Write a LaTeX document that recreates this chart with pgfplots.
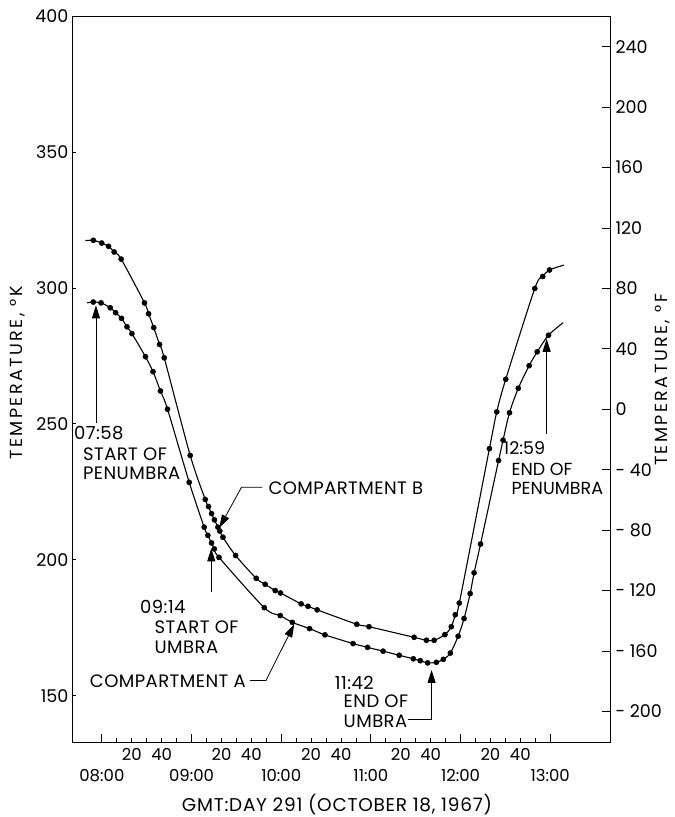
\documentclass[border=0pt]{standalone}
\usepackage{pgfplots}
\pgfplotsset{compat=1.18}
\usepackage{pgfplotstable}
\usepackage{fontspec}
\setmainfont{Poppins}
\newfontfamily\widefont{Poppins}[LetterSpace=14]
\newfontfamily\midfont{Poppins}[LetterSpace=2.5]
\newfontfamily\xlfont{Poppins}[LetterSpace=4]
\usetikzlibrary{arrows.meta}

% Compartment B (upper curve): line incl. end points, and measured dots
\pgfplotstableread{
h K
7.816 317.4
7.905 317.5
7.998 316.5
8.074 315.3
8.137 313.2
8.215 310.6
8.475 294.5
8.521 290.5
8.578 285.4
8.643 279.2
8.695 274.3
8.985 238.4
9.153 222.2
9.189 219.6
9.223 217.0
9.255 214.7
9.294 212.0
9.315 210.6
9.350 208.3
9.491 201.6
9.721 193.2
9.821 191.0
9.933 188.7
9.992 187.8
10.222 183.8
10.299 182.9
10.401 181.6
10.843 176.3
10.979 175.4
11.482 171.5
11.620 170.4
11.705 170.4
11.826 172.5
11.897 175.4
11.941 179.8
11.986 184.1
12.322 240.9
12.404 254.4
12.504 266.4
12.828 299.8
12.916 304.2
12.992 306.6
13.154 308.4
}\Bline

% Compartment A (lower curve)
\pgfplotstableread{
h K
7.836 294.5
7.904 294.8
7.991 294.5
8.093 292.7
8.153 290.9
8.219 288.8
8.280 285.7
8.335 283.2
8.486 274.7
8.570 269.2
8.653 262.1
8.732 255.4
8.974 228.5
9.141 212.0
9.182 209.0
9.223 206.2
9.254 204.0
9.306 200.9
9.811 182.4
9.989 179.5
10.124 177.0
10.316 174.7
10.488 172.4
10.801 169.2
10.963 167.8
11.136 166.4
11.316 164.9
11.473 163.6
11.551 162.9
11.633 162.1
11.731 162.3
11.808 163.4
11.886 165.7
11.973 171.9
12.039 178.4
12.107 187.6
12.151 195.2
12.223 205.8
12.424 236.5
12.474 244.0
12.546 254.1
12.644 263.1
12.765 271.4
12.855 276.5
12.981 282.6
13.144 287.2
}\Aline

\begin{document}
\begin{tikzpicture}[font=\fontsize{16.5}{19}\selectfont]
\begin{axis}[
  at={(0,0)}, anchor=south west,
  scale only axis, width=538pt, height=726pt,
  xmin=7.6667, xmax=13.6667, ymin=133, ymax=400,
  clip=false,
  axis line style={line width=0.9pt},
  tick style={line width=0.8pt, black},
  tick align=inside,
  xtick pos=bottom, ytick pos=left,
  ytick={150,200,250,300,350,400},
  /pgf/number format/assume math mode=true,
  yticklabel style={font=\fontsize{17.5}{20}\selectfont},
  xtick={8.3333,8.6667,9.3333,9.6667,10.3333,10.6667,11.3333,11.6667,12.3333,12.6667},
  xticklabels={20,40,20,40,20,40,20,40,20,40},
  xticklabel style={anchor=base, yshift=-18pt, font=\fontsize{16.5}{19}\selectfont},
  major tick length=4pt, minor tick length=4pt,
  minor xtick={8.1667,8.5,8.8333,9.1667,9.5,9.8333,10.1667,10.5,10.8333,11.1667,11.5,11.8333,12.1667,12.5,12.8333},
  extra x ticks={8,9,10,11,12,13},
  extra x tick labels={08:00,09:00,10:00,11:00,12:00,13:00},
  extra x tick style={major tick length=8pt, xticklabel style={yshift=-21pt}},
  every axis plot/.append style={black},
]
\addplot[line width=1.1pt, smooth, tension=0.5, no markers] table[x=h,y=K] {\Bline};
\addplot[only marks, mark=*, mark size=2.6pt] table[x=h,y=K, skip coords between index={0}{1}, skip coords between index={42}{43}] {\Bline};
\addplot[line width=1.1pt, smooth, tension=0.5, no markers] table[x=h,y=K] {\Aline};
\addplot[only marks, mark=*, mark size=2.6pt] table[x=h,y=K, skip coords between index={0}{1}, skip coords between index={45}{46}] {\Aline};

% annotations
\begin{scope}[line width=0.8pt, -{Triangle[length=13pt,width=8pt]}]
\draw (axis cs:7.934,250.5) -- (axis cs:7.934,293.6);
\draw (axis cs:9.789,226.7) -- (axis cs:9.557,226.7) -- (axis cs:9.31,211.8);
\draw (axis cs:9.22,188.1) -- (axis cs:9.22,204.2);
\draw (axis cs:9.65,155.6) -- (axis cs:9.83,155.6) -- (axis cs:10.145,176.3);
\draw (axis cs:11.413,141.4) -- (axis cs:11.677,141.4) -- (axis cs:11.677,159.5);
\draw (axis cs:12.96,246.3) -- (axis cs:12.96,281.3);
\end{scope}
\begin{scope}[every node/.style={anchor=base west, inner sep=0pt, font=\midfont\fontsize{18}{21}\selectfont}]
\node at (axis cs:7.6875,244.1) {07:58};
\node at (axis cs:7.788,236.7) {START OF};
\node at (axis cs:7.788,229.5) {PENUMBRA};
\node at (axis cs:9.856,224.2) {COMPARTMENT B};
\node at (axis cs:8.425,180.1) {09:14};
\node at (axis cs:8.586,172.8) {START OF};
\node at (axis cs:8.586,165.5) {UMBRA};
\node at (axis cs:7.865,152.9) {COMPARTMENT A};
\node at (axis cs:10.597,152.3) {11:42};
\node at (axis cs:10.695,145.6) {END OF};
\node at (axis cs:10.695,138.5) {UMBRA};
\end{scope}
\begin{scope}[every node/.style={anchor=base west, inner sep=0pt, font=\fontsize{17.5}{21}\selectfont}]
\node at (axis cs:12.479,238.8) {12:59};
\node at (axis cs:12.567,230.9) {END OF};
\node at (axis cs:12.567,224.2) {PENUMBRA};
\end{scope}
\end{axis}
\begin{axis}[
  at={(0,0)}, anchor=south west,
  scale only axis, width=538pt, height=726pt,
  xmin=7.6667, xmax=13.6667,
  ymin=-220.27, ymax=260.33,
  axis x line=none, axis y line*=right,
  axis line style={line width=0.9pt, -},
  tick style={line width=0.8pt, black},
  tick align=inside, major tick length=8pt,
  ytick={-200,-160,-120,-80,-40,0,40,80,120,160,200,240},
  yticklabels={{- 200},{- 160},{- 120},{- 80},{- 40},0,40,80,120,160,200,240},
  yticklabel style={anchor=west, xshift=2pt, font=\fontsize{17.5}{20}\selectfont},
]
\end{axis}
\node[rotate=90, font=\widefont\fontsize{17.5}{20}\selectfont] at (-54pt,369pt) {TEMPERATURE, °K};
\node[rotate=90, font=\widefont\fontsize{17.5}{20}\selectfont] at (591pt,362pt) {TEMPERATURE, °F};
\node[anchor=base, font=\xlfont\fontsize{18.5}{21}\selectfont] at (265pt,-69.5pt) {GMT:DAY 291 (OCTOBER 18, 1967)};
\pgfresetboundingbox
\useasboundingbox (-72pt,-75pt) rectangle (603pt,742pt);
\end{tikzpicture}
\end{document}
